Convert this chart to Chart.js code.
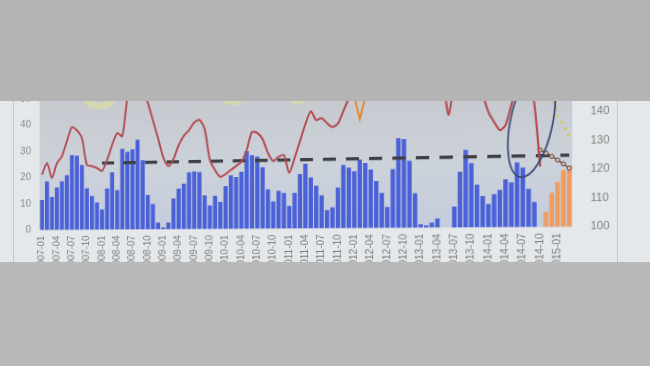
<!DOCTYPE html>
<html>
<head>
<meta charset="utf-8">
<script src="https://cdn.jsdelivr.net/npm/chart.js@4.4.1/dist/chart.umd.min.js"></script>
<style>
html, body { margin: 0; padding: 0; width: 650px; height: 366px; overflow: hidden; background: #b4b4b4; }
#screen { position: absolute; left: 0; top: 101px; width: 650px; height: 161px; overflow: hidden; background: #e5e8ea; }
#flat { position: absolute; left: 0; top: -101px; width: 650px; height: 366px;
        transform-origin: 307px 267px; transform: perspective(886px) rotateY(-8deg); }
.edge { position: absolute; top: 0; bottom: 0; width: 1px; background: #c6c9cb; }
#bottom { position: absolute; left: 0; top: 262px; width: 650px; height: 104px; background: #b9b9b9; }
</style>
</head>
<body>
<div id="screen">
  <div id="flat"><canvas id="chart" width="650" height="366"></canvas></div>
  <div class="edge" style="left:13px"></div>
  <div class="edge" style="left:617px"></div>
</div>
<div id="bottom"></div>
<script>
// monthly categories
const months = [
  '2007-01','2007-02','2007-03','2007-04','2007-05','2007-06','2007-07','2007-08','2007-09','2007-10','2007-11','2007-12',
  '2008-01','2008-02','2008-03','2008-04','2008-05','2008-06','2008-07','2008-08','2008-09','2008-10','2008-11','2008-12',
  '2009-01','2009-02','2009-03','2009-04','2009-05','2009-06','2009-07','2009-08','2009-09','2009-10','2009-11','2009-12',
  '2010-01','2010-02','2010-03','2010-04','2010-05','2010-06','2010-07','2010-08','2010-09','2010-10','2010-11','2010-12',
  '2011-01','2011-02','2011-03','2011-04','2011-05','2011-06','2011-07','2011-08','2011-09','2011-10','2011-11','2011-12',
  '2012-01','2012-02','2012-03','2012-04','2012-05','2012-06','2012-07','2012-08','2012-09','2012-10','2012-11','2012-12',
  '2013-01','2013-02','2013-03','2013-04','2013-05','2013-06','2013-07','2013-08','2013-09','2013-10','2013-11','2013-12',
  '2014-01','2014-02','2014-03','2014-04','2014-05','2014-06','2014-07','2014-08','2014-09','2014-10','2014-11','2014-12',
  '2015-01','2015-02','2015-03'
];

// blue bars, left axis
const blueBars = [
  11.4, 18.4, 12.5, 16.1, 18.4, 20.7, 28.3, 28, 24.4, 15.6, 12.7, 10.2,
  7.6, 15.4, 21.5, 14.8, 30.3, 29.1, 30, 33.5, 25.9, 12.9, 9.4, 2.5,
  0.7, 2.5, 11.4, 15.1, 16.9, 21.1, 21.3, 21.1, 12.4, 8.7, 12.2, 10,
  15.8, 19.7, 19.1, 21, 28.5, 27, 26.4, 22.5, 14.4, 10, 13.8, 13,
  8.2, 13, 19.8, 23.5, 18.5, 15.5, 12, 6.6, 7.6, 14.7, 22.9, 21.9,
  20.5, 24.7, 23.4, 21.1, 16.9, 12.6, 7.5, 21.1, 32.2, 31.8, 24, 12.3,
  1.2, 0.8, 1.8, 3.2, null, null, 7.4, 19.8, 27.5, 22.8, 15.2, 11.1,
  8.2, 11.7, 13.2, 16.9, 15.8, 22.8, 21, 13.4, 8.8
];

// orange bars, left axis
const orangeMonths = ['2014-11','2014-12','2015-01','2015-02','2015-03'];
const orangeBars = [5.3, 12, 15.7, 19.9, 21.3];

// red line, right axis
const redLine = [
  121, 125.4, 119.7, 125.3, 127.9, 133.6, 138.8, 137.6, 134.6, 124.5, 124, 123.2,
  122.1, 126.2, 131.8, 136.2, 135, 149, 156, 158, 153, 147.3, 140.7, 134,
  126.9, 123.5, 126.1, 131.2, 134.7, 136.7, 139.5, 140.4, 137, 125.5, 121.7, 119.2,
  120.2, 121.7, 123.1, 124.6, 128.9, 135.5, 135.1, 132.8, 127.7, 124.7, 126.2, 126.8,
  120.3, 125.7, 131.8, 138, 142.6, 139.3, 140, 138.1, 136.7, 137.9, 142.4, 147,
  152, 155, 157, 156, 155, 156, 158, 157, 156, 155, 156, 157,
  156, 155, 153, 151, 150, 140.1, 152, 156, 157, 155, 152, 147,
  140.8, 137.2, 134.3, 136, 143, 150, 154, 152, 143.2, 121.2
];

// yellow line (mostly above the visible area), right axis
const yellowLine = [
  154, 154, 154, 154, 154, 154, 154, 154, 152, 148.5, 147, 146.6,
  146.6, 147, 148.5, 152, 154, 154, 154, 154, 154, 154, 154, 154,
  154, 154, 154, 154, 154, 154, 154, 154, 154, 154, 154, 152,
  148, 146.8, 146.8, 148, 152, 154, 154, 154, 154, 154, 154, 152,
  148, 146.8, 146.8, 147.5, 152, 154, 154, 154, 154, 154, 154, 154
];

// orange line, right axis
const orangeLineMonths = ['2011-11','2011-12','2012-01','2012-02','2012-03','2012-04','2012-05'];
const orangeLine = [152, 151, 147.5, 139.3, 147, 152, 154];

// forecast lines, right axis
const forecastMonths = ['2014-10','2014-11','2014-12','2015-01','2015-02','2015-03'];
const forecastLine = [127, 125.9, 124.7, 123.4, 122, 120.5];
const dottedMonths = ['2014-12','2015-01','2015-02','2015-03'];
const dottedLine = [146.5, 138.7, 135.6, 131.3];

// target (dashed), right axis
const targetValue = 125;
const targetFrom = '2008-01';
const targetTo = '2015-03';

const leftTicks = [0, 10, 20, 30, 40, 50];
const rightTicks = [100, 110, 120, 130, 140];

// hand-drawn ellipse on the slide
const noteIndex = 91.5;
const noteValue = 136.9;

const pairs = (labels, values) => labels.map((m, i) => ({ x: m, y: values[i] }));

const plotBg = {
  id: 'plotBg',
  beforeDraw(chart) {
    const { ctx, chartArea: a } = chart;
    const g = ctx.createLinearGradient(0, a.top, 0, a.bottom);
    g.addColorStop(0, '#c6c9ce');
    g.addColorStop(0.55, '#ccd2da');
    g.addColorStop(1, '#c5ccdc');
    ctx.save();
    ctx.fillStyle = g;
    ctx.fillRect(a.left, a.top, a.right - a.left, a.bottom - a.top);
    ctx.restore();
  }
};

const ellipseNote = {
  id: 'ellipseNote',
  afterDatasetsDraw(chart) {
    const x = chart.scales.x.getPixelForValue(noteIndex);
    const y = chart.scales.y1.getPixelForValue(noteValue);
    const ctx = chart.ctx;
    ctx.save();
    ctx.strokeStyle = '#3b4a72';
    ctx.lineWidth = 1.6;
    ctx.beginPath();
    ctx.ellipse(x, y, 20, 54, 0.2, 0, Math.PI * 2);
    ctx.stroke();
    ctx.restore();
  }
};

const ctx = document.getElementById('chart').getContext('2d');
new Chart(ctx, {
  type: 'bar',
  data: {
    labels: months,
    datasets: [
      {
        type: 'line', label: 'red', data: redLine, yAxisID: 'y1',
        borderColor: '#b44a50', borderWidth: 2, tension: 0.25, pointRadius: 0, order: 1
      },
      {
        type: 'line', label: 'forecast', data: pairs(forecastMonths, forecastLine), yAxisID: 'y1',
        borderColor: '#6b4a3e', borderWidth: 1.3, pointRadius: 2, pointBackgroundColor: '#cfc6bd',
        pointBorderColor: '#6b4a3e', pointBorderWidth: 1, order: 1
      },
      {
        type: 'line', label: 'dotted', data: pairs(dottedMonths, dottedLine), yAxisID: 'y1',
        borderColor: '#d8c437', borderWidth: 2.5, borderDash: [2, 5], pointRadius: 0, order: 1
      },
      {
        type: 'line', label: 'target', yAxisID: 'y1',
        data: [{ x: targetFrom, y: targetValue }, { x: targetTo, y: targetValue }],
        borderColor: '#3d4044', borderWidth: 3.2, borderDash: [13, 10], pointRadius: 0, order: 2
      },
      {
        type: 'line', label: 'orange', data: pairs(orangeLineMonths, orangeLine), yAxisID: 'y1',
        borderColor: '#e08a3c', borderWidth: 2, pointRadius: 0, order: 3
      },
      {
        type: 'line', label: 'yellow', data: yellowLine, yAxisID: 'y1',
        borderColor: 'rgba(232, 230, 140, 0.45)', borderWidth: 7, tension: 0.3, pointRadius: 0, order: 4
      },
      {
        label: 'blue', data: blueBars, yAxisID: 'y',
        backgroundColor: '#4b61d8', barPercentage: 0.8, categoryPercentage: 1, grouped: false, order: 10
      },
      {
        label: 'orangeBars', data: pairs(orangeMonths, orangeBars), yAxisID: 'y',
        backgroundColor: '#ee9c60', barPercentage: 0.8, categoryPercentage: 1, grouped: false, order: 10
      }
    ]
  },
  options: {
    responsive: false,
    animation: false,
    devicePixelRatio: 1,
    layout: { padding: { left: 0, right: 0, top: 91, bottom: 97.6 } },
    plugins: { legend: { display: false }, tooltip: { enabled: false } },
    scales: {
      x: {
        grid: { display: false, drawTicks: false },
        border: { display: false },
        ticks: {
          autoSkip: false, minRotation: 90, maxRotation: 90, padding: 6,
          color: '#7c7c7c', font: { family: 'Liberation Sans', size: 10 },
          callback: (v, i) => (i % 3 === 0 ? months[i] : null)
        },
        afterFit: a => { a.height = 40; }
      },
      y: {
        position: 'left', min: 0, max: 50,
        afterBuildTicks: a => { a.ticks = leftTicks.map(v => ({ value: v })); },
        grid: { display: false, drawTicks: false },
        border: { display: false },
        ticks: { color: '#848484', padding: 9.5, font: { family: 'Liberation Sans', size: 10.5 } },
        afterFit: a => { a.width = 25; }
      },
      y1: {
        position: 'right', min: 100, max: 150,
        afterBuildTicks: a => { a.ticks = rightTicks.map(v => ({ value: v })); },
        grid: { display: false, drawTicks: false },
        border: { display: false },
        ticks: { color: '#7e7e7e', padding: 17, font: { family: 'Liberation Sans', size: 10.5 } },
        afterFit: a => { a.width = 86; }
      }
    }
  },
  plugins: [plotBg, ellipseNote]
});
</script>
</body>
</html>
